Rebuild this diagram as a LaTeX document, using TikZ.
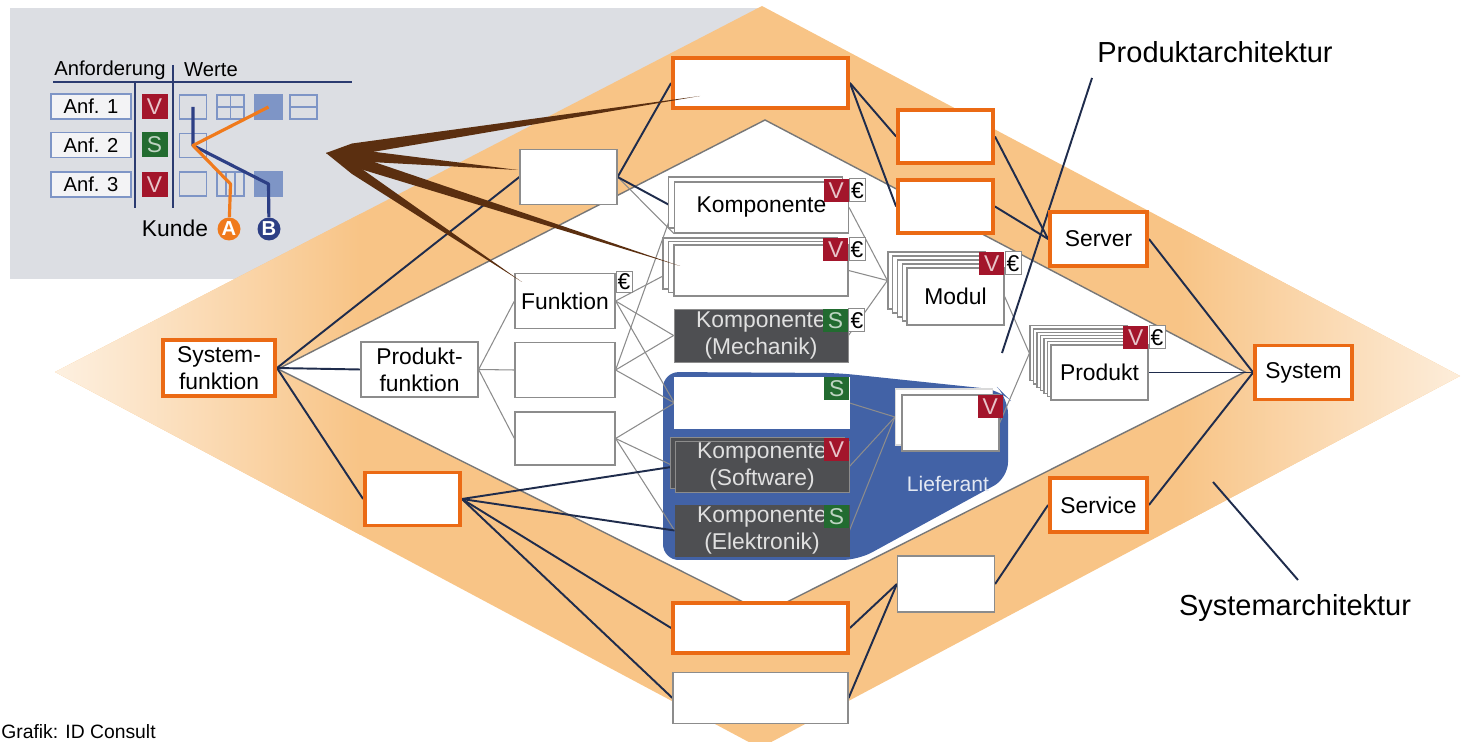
\documentclass[tikz,border=0pt]{standalone}
\usepackage{fontspec}
\setmainfont{Liberation Sans}
\usetikzlibrary{positioning}

\definecolor{panelgray}{HTML}{DCDEE3}
\definecolor{bandorange}{HTML}{F8C486}
\definecolor{frameorange}{HTML}{EB6A14}
\definecolor{linknavy}{HTML}{1F2C4C}
\definecolor{treegray}{HTML}{8C8C8C}
\definecolor{edgegray}{HTML}{777777}
\definecolor{supplierblue}{HTML}{4262A6}
\definecolor{darkpart}{HTML}{4E4F52}
\definecolor{tagred}{HTML}{A3152B}
\definecolor{taggreen}{HTML}{226B30}
\definecolor{cellblue}{HTML}{7E95C6}
\definecolor{tablenavy}{HTML}{2B3B70}
\definecolor{kundeorange}{HTML}{F07A1C}
\definecolor{kundenavy}{HTML}{2D3F85}
\definecolor{fanbrown}{HTML}{5B2F10}

\newcommand\boxtext{\fontsize{13}{15.5}\selectfont}
\newcommand\tagtext{\fontsize{13}{13}\selectfont}
\newcommand\tabletext{\fontsize{11.5}{13}\selectfont}
\newcommand\titletext{\fontsize{16.5}{19}\selectfont}

\pgfdeclarelayer{back}
\pgfdeclarelayer{links}
\pgfsetlayers{back,links,main}

\tikzset{
	orangebox/.style = {draw = frameorange, line width = 2.2pt, fill = white, inner sep = 0pt, align = center, font = \boxtext},
	graybox/.style = {draw = treegray, line width = 0.7pt, fill = white, inner sep = 0pt, align = center, font = \boxtext},
	darkbox/.style = {draw = treegray, line width = 0.5pt, fill = darkpart, text = white!88!black, inner sep = 0pt, align = center, font = \boxtext},
	unitsize/.style = {minimum width = 1.94cm, minimum height = 1.08cm},
	longsize/.style = {minimum width = 3.48cm, minimum height = 1.02cm},
	vtag/.style = {fill = tagred, text = tagred!25!white, minimum width = 0.5cm, minimum height = 0.46cm, inner sep = 0pt, font = \tagtext},
	stag/.style = {vtag, fill = taggreen, text = taggreen!30!white},
	eurotag/.style = {draw = treegray, line width = 0.5pt, fill = white, minimum width = 0.32cm, minimum height = 0.46cm, inner sep = 0pt, font = \tagtext},
	anfbox/.style = {draw = cellblue, line width = 0.9pt, fill = white!65!panelgray, minimum width = 1.6cm, minimum height = 0.5cm, inner sep = 0pt, font = \tabletext},
	valuecell/.style = {draw = cellblue, line width = 0.9pt, minimum width = 0.54cm, minimum height = 0.48cm, inner sep = 0pt},
	fullcell/.style = {valuecell, fill = cellblue},
	kundepin/.style = {circle, minimum size = 0.46cm, inner sep = 0pt, text = white, font = \bfseries\tabletext},
	navylink/.style = {draw = linknavy, line width = 1.1pt},
	treelink/.style = {draw = treegray, line width = 0.6pt},
}

\begin{document}
\begin{tikzpicture}[x = 0.02cm, y = -0.02cm]

	\useasboundingbox (0,0) rectangle (1463,742);

	\begin{pgfonlayer}{back}
		\fill[panelgray] (10,8) rectangle (760,279);
		\fill[bandorange] (55,372) -- (762,6) -- (1460,376) -- (760,748) -- cycle;
		\begin{scope}
			\clip (55,372) -- (762,6) -- (1460,376) -- (760,748) -- cycle;
			\shade[left color = white!75!bandorange, right color = bandorange] (55,0) rectangle (360,750);
			\shade[left color = bandorange, right color = white!70!bandorange] (1180,0) rectangle (1460,750);
		\end{scope}
		\filldraw[fill = white, draw = edgegray, line width = 0.8pt]
			(278,369) -- (765,120) -- (1245,372) -- (765,613) -- cycle;
		\fill[supplierblue, rounded corners = 9pt]
			(663,372) -- (838,373) -- (1000,390) -- (1008,398) -- (1008,478) -- (858,560) -- (663,560) -- cycle;
	\end{pgfonlayer}

	\node[font = \tabletext] (anfhead) at (110,70) {Anforderung};
	\node[font = \tabletext] (wertehead) at (211,70) {Werte};
	\draw[tablenavy, line width = 1.2pt] (53,82) -- (352,82);
	\draw[tablenavy, line width = 1.2pt] (173,65) -- (173,208);
	\draw[tablenavy, line width = 1.2pt] (135,83) -- (135,208);

	\foreach \r/\y/\t/\k in {1/106.5/V/vtag, 2/145/S/stag, 3/184.5/V/vtag} {
		\node[anfbox] (anf\r) at (91,\y) {Anf. \r};
		\node[\k, minimum width = 0.52cm, minimum height = 0.5cm] (req\r) at (154.5,\y) {\t};
	}

	\node[valuecell] (c11) at (193,107) {};
	\node[valuecell] (c12) at (230.5,107) {};
	\node[fullcell] (c13) at (268.5,107) {};
	\node[valuecell] (c14) at (303.5,107) {};
	\node[valuecell] (c21) at (193,145.5) {};
	\node[valuecell] (c31) at (193,184) {};
	\node[valuecell] (c32) at (230.5,184) {};
	\node[fullcell] (c33) at (268.5,184) {};
	\draw[cellblue, line width = 0.9pt]
		(c12.north) -- (c12.south) (c12.west) -- (c12.east) (c14.west) -- (c14.east)
		([xshift = -2.6pt]c32.north) -- ([xshift = -2.6pt]c32.south)
		([xshift = 2.6pt]c32.north) -- ([xshift = 2.6pt]c32.south);

	\node[font = \boxtext] (kunde) at (175,228) {Kunde};
	\node[kundepin, fill = kundeorange] (kundea) at (229,229) {A};
	\node[kundepin, fill = kundenavy] (kundeb) at (269,229) {B};
	\draw[kundenavy, line width = 1.8pt, line join = round]
		(c11.center) -- (c21.center) -- (c33.center) -- (kundeb);
	\draw[kundeorange, line width = 1.8pt, line join = round]
		(c13.center) -- (c21.center) -- (c32.center) -- (kundea);

	\node[orangebox, longsize, minimum width = 3.5cm, minimum height = 1cm] (sysupper) at (760.5,83) {};
	\node[orangebox, minimum width = 1.9cm, minimum height = 1.06cm] (sysa) at (945.5,136.5) {};
	\node[orangebox, minimum width = 1.9cm, minimum height = 1.06cm] (sysb) at (945.5,206.5) {};
	\node[orangebox, unitsize] (server) at (1098.5,239) {Server};
	\node[orangebox, unitsize] (system) at (1303.5,372.5) {System};
	\node[orangebox, unitsize] (service) at (1098.5,505) {Service};
	\node[orangebox, minimum width = 2.24cm, minimum height = 1.12cm] (sysfkt) at (219,368) {System-\\funktion};
	\node[orangebox, minimum width = 1.9cm, minimum height = 1.06cm] (syslower) at (412.5,499) {};
	\node[orangebox, longsize, minimum width = 3.5cm, minimum height = 1cm] (sysbottom) at (760.5,628) {};
	\node[graybox, longsize, minimum width = 3.5cm] (partbottom) at (760.5,698) {};
	\node[graybox, unitsize, minimum height = 1.12cm] (partright) at (946,584) {};

	\node[graybox, unitsize, minimum height = 1.1cm] (partgray) at (568.5,177) {};
	\node[graybox, minimum width = 2.34cm, minimum height = 1.1cm] (prodfkt) at (419.5,369.5) {Produkt-\\funktion};
	\node[graybox, minimum width = 2cm, minimum height = 1.1cm] (funktion) at (565,301) {Funktion};
	\node[graybox, minimum width = 2cm, minimum height = 1.1cm] (funkb) at (565,370) {};
	\node[graybox, minimum width = 2cm, minimum height = 1.06cm] (funkc) at (565,438.5) {};

	\node[graybox, longsize] (kompback) at (755.5,202.5) {};
	\node[graybox, longsize] (komp) at (761.5,207.5) {Komponente};
	\foreach \i in {2,1}
		\node[graybox, longsize] (kompb\i) at (761-5.5*\i, 270.5-3.5*\i) {};
	\node[graybox, longsize] (kompb) at (761,270.5) {};
	\node[darkbox, longsize, minimum height = 1.06cm] (mech) at (761,335.5) {Komponente\\(Mechanik)};

	\node[graybox, longsize, draw = white] (kaufteil) at (762,403) {};
	\node[darkbox, longsize] (softwareback) at (757,462.5) {};
	\node[darkbox, longsize] (software) at (762,466.5) {Komponente\\(Software)};
	\node[darkbox, longsize, draw = darkpart] (elektronik) at (762,530.5) {Komponente\\(Elektronik)};

	\node[graybox, unitsize, minimum height = 1.12cm, draw = white!85!black] (lieferantback) at (944,417) {};
	\node[graybox, unitsize, minimum height = 1.12cm] (lieferant) at (950.5,423) {};
	\node[text = white!85!supplierblue, font = \fontsize{12}{14}\selectfont] (lieflabel) at (948,484) {Lieferant};

	\foreach \i in {4,3,2,1}
		\node[graybox, unitsize, minimum height = 1.14cm] (modul\i) at (955.5-4.75*\i, 296.5-4*\i) {};
	\node[graybox, unitsize, minimum height = 1.14cm] (modul) at (955.5,296.5) {Modul};
	\foreach \i in {6,...,1}
		\node[graybox, unitsize, minimum height = 1.1cm] (produkt\i) at (1099.5-3.5*\i, 372.5-3.2*\i) {};
	\node[graybox, unitsize, minimum height = 1.1cm] (produkt) at (1099.5,372.5) {Produkt};

	\node[vtag, anchor = north east] (kompv) at ([yshift = 1.7pt]komp.north east) {V};
	\node[eurotag, right = 0pt of kompv] (kompeur) {€};
	\node[vtag, anchor = north east] (kompbv) at ([yshift = 4pt]kompb.north east) {V};
	\node[eurotag, right = 0pt of kompbv] (kompbeur) {€};
	\node[stag, anchor = north east] (mechs) at (mech.north east) {S};
	\node[eurotag, right = 0pt of mechs] (mecheur) {€};
	\node[stag, anchor = north east] (kaufteils) at (kaufteil.north east) {S};
	\node[vtag, anchor = north east] (softwarev) at ([yshift = 1.7pt]software.north east) {V};
	\node[stag, anchor = north east] (elektroniks) at (elektronik.north east) {S};
	\node[vtag, anchor = north east] (lieferantv) at ([xshift = 2pt]lieferant.north east) {V};
	\node[vtag, anchor = north east] (modulv) at ([yshift = 9pt]modul.north east) {V};
	\node[eurotag, right = 0pt of modulv] (moduleur) {€};
	\node[vtag, anchor = north east] (produktv) at ([yshift = 10.8pt]produkt.north east) {V};
	\node[eurotag, right = 0pt of produktv] (produkteur) {€};
	\node[eurotag, anchor = north west, minimum height = 0.42cm] (funktioneur) at ([yshift = 1pt]funktion.north east) {€};

	\node[font = \titletext] (prodarch) at (1215,52) {Produktarchitektur};
	\node[font = \titletext] (sysarch) at (1295,608) {Systemarchitektur};
	\node[font = \fontsize{11}{13}\selectfont, anchor = base west, inner sep = 0pt] (credit) at (1,738) {Grafik: ID Consult};

	\coordinate (prodfoot) at (1092,78);
	\coordinate (prodtip) at (1002,353);
	\coordinate (sysfoot) at (1298,580);
	\coordinate (systip) at (1213,482);

	\begin{pgfonlayer}{links}
		\draw[treelink] (prodfkt.east) -- (funktion.west);
		\draw[treelink] (prodfkt.east) -- (funkb.west);
		\draw[treelink] (prodfkt.east) -- (funkc.west);
		\draw[treelink] (partgray.east) -- (komp.south west);
		\draw[treelink] (funktion.east) -- (kompb.west);
		\draw[treelink] (funktion.east) -- (mech.west);
		\draw[treelink] (funktion.east) -- (kaufteil.west);
		\draw[treelink] (funkb.east) -- (komp.west);
		\draw[treelink] (funkb.east) -- (mech.west);
		\draw[treelink] (funkb.east) -- (kaufteil.west);
		\draw[treelink] (funkc.east) -- (kaufteil.west);
		\draw[treelink] (funkc.east) -- (software.west);
		\draw[treelink] (funkc.east) -- (elektronik.west);
		\draw[treelink] (komp.east) -- (modul4.west);
		\draw[treelink] (kompb.east) -- (modul4.west);
		\draw[treelink] (mech.east) -- (modul4.west);
		\draw[treelink] (modul.east) -- (produkt6.west);
		\draw[treelink] (lieferant.east) -- (produkt6.west);
		\draw[treelink] (kaufteil.east) -- (lieferantback.west);
		\draw[treelink] (software.east) -- (lieferantback.west);
		\draw[treelink] (elektronik.east) -- (lieferantback.west);

		\draw[navylink] (sysfkt.east) -- (partgray.west);
		\draw[navylink] (sysfkt.east) -- (prodfkt.west);
		\draw[navylink] (sysfkt.east) -- (syslower.west);
		\draw[navylink] (partgray.east) -- (sysupper.west);
		\draw[navylink] (partgray.east) -- (komp.west);
		\draw[navylink] (sysupper.east) -- (sysa.west);
		\draw[navylink] (sysupper.east) -- (sysb.west);
		\draw[navylink] (sysa.east) -- (server.west);
		\draw[navylink] (sysb.east) -- (server.west);
		\draw[navylink] (server.east) -- (system.west);
		\draw[navylink] (produkt.east) -- (system.west);
		\draw[navylink] (service.east) -- (system.west);
		\draw[navylink] (partright.east) -- (service.west);
		\draw[navylink] (sysbottom.east) -- (partright.west);
		\draw[navylink] (partbottom.east) -- (partright.west);
		\draw[navylink] (syslower.east) -- (software.west);
		\draw[navylink] (syslower.east) -- (elektronik.west);
		\draw[navylink] (syslower.east) -- (sysbottom.west);
		\draw[navylink] (syslower.east) -- (partbottom.west);
		\draw[navylink] (prodfoot) -- (prodtip);
		\draw[navylink] (sysfoot) -- (systip);
	\end{pgfonlayer}

	\coordinate (fan) at (326,153);
	\coordinate (fanupper) at (700,96);
	\coordinate (fangray) at (518,170);
	\coordinate (fankomp) at (680,266);
	\coordinate (fanfunk) at (522,282);
	\fill[fanbrown] (fan) -- (352,143.5) -- (fanupper) -- (352,155.5) -- cycle;
	\fill[fanbrown] (fan) -- (352,149) -- (fangray) -- (352,161) -- cycle;
	\fill[fanbrown] (fan) -- (352,154.5) -- (fankomp) -- (352,166.5) -- cycle;
	\fill[fanbrown] (fan) -- (352,162) -- (fanfunk) -- (352,174) -- cycle;

\end{tikzpicture}
\end{document}
